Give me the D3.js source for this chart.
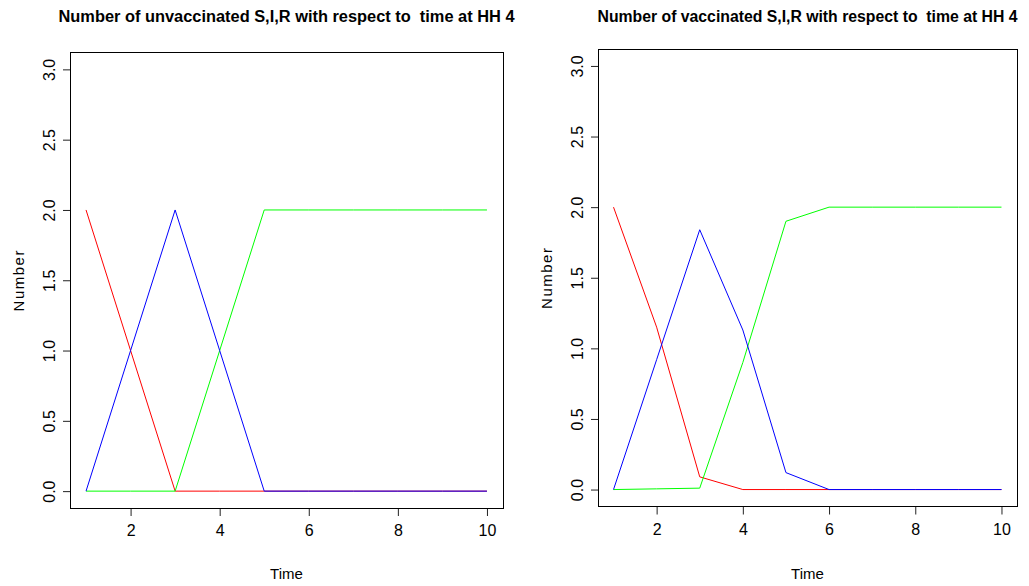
<!DOCTYPE html>
<html>
<head>
<meta charset="utf-8">
<script src="https://cdn.jsdelivr.net/npm/d3@7"></script>
<style>
  body { margin: 0; background: #fff; }
  text { font-family: "Liberation Sans", Arial, sans-serif; fill: #000; }
</style>
</head>
<body>
<svg id="canvas" width="1029" height="586"></svg>
<script>
// time steps
const time = [1, 2, 3, 4, 5, 6, 7, 8, 9, 10];

// unvaccinated household members
const unvacS = [2, 1, 0, 0, 0, 0, 0, 0, 0, 0];
const unvacI = [0, 1, 2, 1, 0, 0, 0, 0, 0, 0];
const unvacR = [0, 0, 0, 1, 2, 2, 2, 2, 2, 2];

// vaccinated household members
const vacS = [2, 1.15, 0.09, 0, 0, 0, 0, 0, 0, 0];
const vacI = [0, 0.92, 1.84, 1.13, 0.12, 0, 0, 0, 0, 0];
const vacR = [0, 0.005, 0.01, 0.9, 1.9, 2, 2, 2, 2, 2];

const xTicks = [2, 4, 6, 8, 10];
const yTicks = [0, 0.5, 1, 1.5, 2, 2.5, 3];

const titles = [
  "Number of unvaccinated S,I,R with respect to  time at HH 4",
  "Number of vaccinated S,I,R with respect to  time at HH 4"
];

const svg = d3.select("#canvas");

const panels = [
  { title: titles[0], S: unvacS, I: unvacI, R: unvacR, left: 70, right: 503, top: 52.5, bottom: 508, tw: 456 },
  { title: titles[1], S: vacS, I: vacI, R: vacR, left: 598, right: 1017, top: 49, bottom: 506.5, tw: 420 }
];

panels.forEach(p => {
  const g = svg.append("g");

  // R style 4% padding around the data range
  const x = d3.scaleLinear().domain([1 - 0.36, 10 + 0.36]).range([p.left, p.right]);
  const y = d3.scaleLinear().domain([-0.12, 3.12]).range([p.bottom, p.top]);

  const cx = (p.left + p.right) / 2;
  const cy = (p.top + p.bottom) / 2;

  // bold title, squeezed a little like the R device font
  g.append("text")
    .attr("x", cx)
    .attr("y", 22)
    .attr("text-anchor", "middle")
    .attr("textLength", p.tw)
    .attr("lengthAdjust", "spacingAndGlyphs")
    .style("white-space", "pre")
    .style("font-size", "16px")
    .style("font-weight", "bold")
    .text(p.title);

  const xAxis = g.append("g")
    .attr("transform", `translate(0,${p.bottom})`)
    .call(d3.axisBottom(x).tickValues(xTicks).tickSize(8).tickSizeOuter(0).tickPadding(20).tickFormat(d3.format("d")));
  xAxis.select(".domain").remove();
  xAxis.selectAll("text").style("font-size", "16px").attr("dy", "0");
  xAxis.selectAll("line").attr("stroke", "#222");

  const yAxis = g.append("g")
    .attr("transform", `translate(${p.left},0)`)
    .call(d3.axisLeft(y).tickValues(yTicks).tickSize(7).tickSizeOuter(0).tickFormat(d3.format(".1f")));
  yAxis.select(".domain").remove();
  yAxis.selectAll("line").attr("stroke", "#222");
  yAxis.selectAll("text")
    .style("font-size", "16px")
    .attr("x", null).attr("dy", null)
    .attr("text-anchor", "middle")
    .attr("transform", "translate(-15,0) rotate(-90)");

  g.append("rect")
    .attr("x", p.left).attr("y", p.top)
    .attr("width", p.right - p.left).attr("height", p.bottom - p.top)
    .attr("fill", "none").attr("stroke", "#000").attr("stroke-width", 1)
    .attr("shape-rendering", "crispEdges");

  g.append("text")
    .attr("x", cx).attr("y", 579)
    .attr("text-anchor", "middle")
    .style("font-size", "15px")
    .text("Time");

  g.append("text")
    .attr("transform", `translate(${p.left - 46},${cy}) rotate(-90)`)
    .attr("text-anchor", "middle")
    .style("font-size", "15px")
    .style("letter-spacing", "1.5px")
    .text("Number");

  const line = d3.line().x((d, i) => x(time[i])).y(d => y(d));

  [[p.S, "#ff0000"], [p.R, "#00ff00"], [p.I, "#0000ff"]].forEach(([vals, col]) => {
    g.append("path")
      .datum(vals)
      .attr("d", line)
      .attr("fill", "none")
      .attr("stroke", col)
      .attr("stroke-width", 1);
  });
});
</script>
</body>
</html>
